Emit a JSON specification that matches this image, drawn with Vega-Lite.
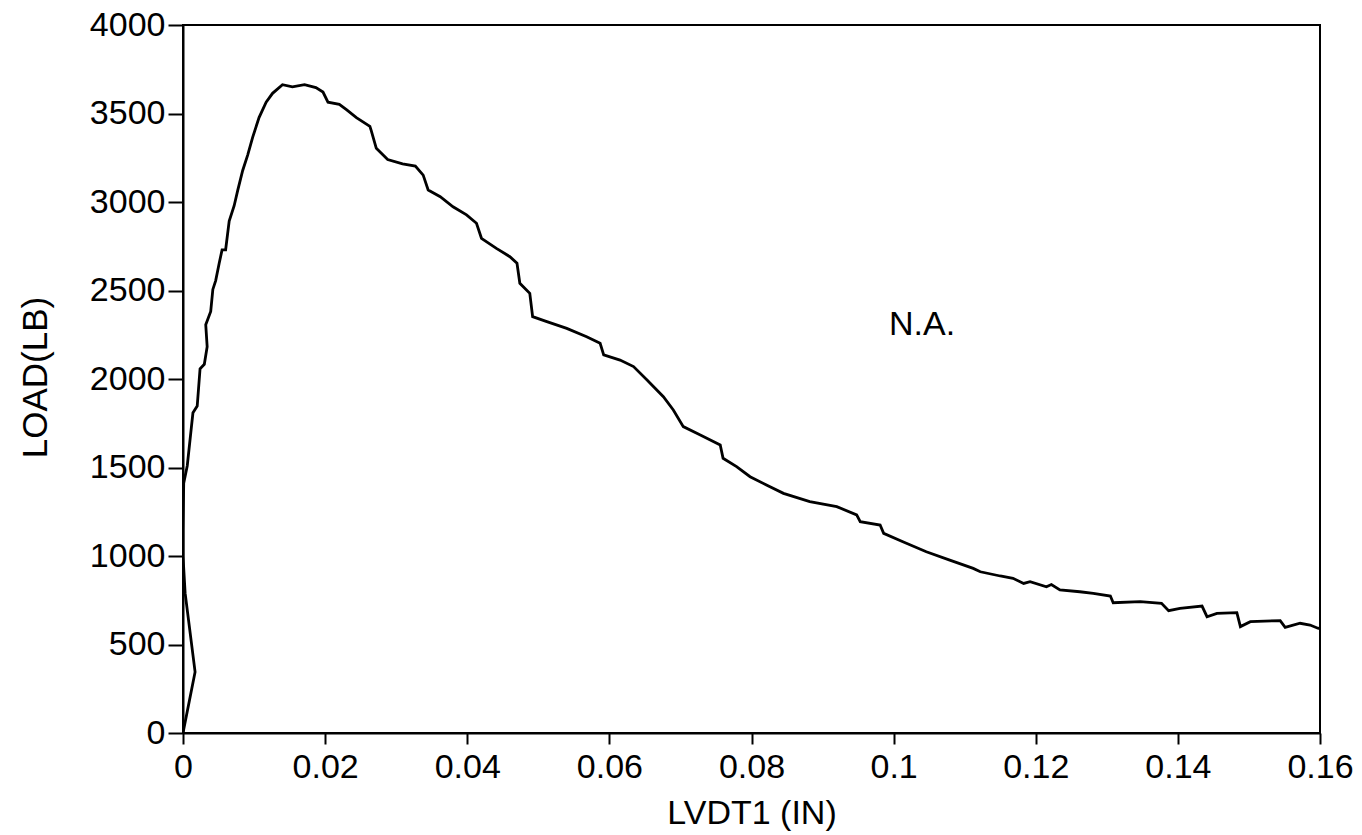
{
  "$schema": "https://vega.github.io/schema/vega-lite/v6.json",
  "autosize": {"type": "none"},
  "width": 1137,
  "height": 708,
  "padding": {"left": 183, "top": 25, "right": 42, "bottom": 102},
  "background": "white",
  "config": {
    "font": "Liberation Sans",
    "view": {"stroke": "black", "strokeWidth": 2},
    "axis": {
      "grid": false,
      "domainColor": "black",
      "domainWidth": 2,
      "tickColor": "black",
      "tickWidth": 2,
      "labelColor": "black",
      "titleColor": "black",
      "labelFont": "Liberation Sans",
      "titleFont": "Liberation Sans",
      "titleFontWeight": "normal"
    }
  },
  "datasets": {
    "curve": [
      {"i": 0, "x": 0, "y": 0},
      {"i": 1, "x": 0.0017, "y": 345},
      {"i": 2, "x": 0.0003, "y": 790},
      {"i": 3, "x": 0, "y": 1000},
      {"i": 4, "x": 0, "y": 1150},
      {"i": 5, "x": 0.0001, "y": 1411},
      {"i": 6, "x": 0.0006, "y": 1510},
      {"i": 7, "x": 0.0012, "y": 1735},
      {"i": 8, "x": 0.0014, "y": 1809},
      {"i": 9, "x": 0.002, "y": 1847},
      {"i": 10, "x": 0.0024, "y": 2058},
      {"i": 11, "x": 0.003, "y": 2083},
      {"i": 12, "x": 0.0034, "y": 2183},
      {"i": 13, "x": 0.0032, "y": 2307},
      {"i": 14, "x": 0.0039, "y": 2382},
      {"i": 15, "x": 0.0042, "y": 2506},
      {"i": 16, "x": 0.0046, "y": 2556},
      {"i": 17, "x": 0.0051, "y": 2655},
      {"i": 18, "x": 0.0055, "y": 2730},
      {"i": 19, "x": 0.006, "y": 2730},
      {"i": 20, "x": 0.0065, "y": 2892},
      {"i": 21, "x": 0.0072, "y": 2979},
      {"i": 22, "x": 0.0077, "y": 3066},
      {"i": 23, "x": 0.0084, "y": 3178},
      {"i": 24, "x": 0.0091, "y": 3265},
      {"i": 25, "x": 0.0098, "y": 3365},
      {"i": 26, "x": 0.0107, "y": 3477},
      {"i": 27, "x": 0.0117, "y": 3564},
      {"i": 28, "x": 0.0126, "y": 3614},
      {"i": 29, "x": 0.014, "y": 3663},
      {"i": 30, "x": 0.0154, "y": 3651},
      {"i": 31, "x": 0.0171, "y": 3663},
      {"i": 32, "x": 0.0187, "y": 3646},
      {"i": 33, "x": 0.0197, "y": 3621},
      {"i": 34, "x": 0.0204, "y": 3564},
      {"i": 35, "x": 0.022, "y": 3552},
      {"i": 36, "x": 0.023, "y": 3522},
      {"i": 37, "x": 0.0244, "y": 3477},
      {"i": 38, "x": 0.0263, "y": 3427},
      {"i": 39, "x": 0.0265, "y": 3402},
      {"i": 40, "x": 0.0272, "y": 3303},
      {"i": 41, "x": 0.0288, "y": 3240},
      {"i": 42, "x": 0.0309, "y": 3216},
      {"i": 43, "x": 0.0327, "y": 3203},
      {"i": 44, "x": 0.0338, "y": 3152},
      {"i": 45, "x": 0.0345, "y": 3068},
      {"i": 46, "x": 0.0362, "y": 3030},
      {"i": 47, "x": 0.038, "y": 2973},
      {"i": 48, "x": 0.0399, "y": 2927},
      {"i": 49, "x": 0.0413, "y": 2880},
      {"i": 50, "x": 0.042, "y": 2795},
      {"i": 51, "x": 0.0441, "y": 2738},
      {"i": 52, "x": 0.046, "y": 2691},
      {"i": 53, "x": 0.047, "y": 2654},
      {"i": 54, "x": 0.0474, "y": 2541},
      {"i": 55, "x": 0.0488, "y": 2484},
      {"i": 56, "x": 0.0492, "y": 2352},
      {"i": 57, "x": 0.0512, "y": 2324},
      {"i": 58, "x": 0.054, "y": 2286},
      {"i": 59, "x": 0.0568, "y": 2239},
      {"i": 60, "x": 0.0587, "y": 2202},
      {"i": 61, "x": 0.0592, "y": 2136},
      {"i": 62, "x": 0.0615, "y": 2107},
      {"i": 63, "x": 0.0634, "y": 2070},
      {"i": 64, "x": 0.0653, "y": 1994},
      {"i": 65, "x": 0.0676, "y": 1900},
      {"i": 66, "x": 0.069, "y": 1825},
      {"i": 67, "x": 0.0704, "y": 1731},
      {"i": 68, "x": 0.0728, "y": 1684},
      {"i": 69, "x": 0.0756, "y": 1627},
      {"i": 70, "x": 0.076, "y": 1552},
      {"i": 71, "x": 0.0779, "y": 1505},
      {"i": 72, "x": 0.0798, "y": 1448},
      {"i": 73, "x": 0.0821, "y": 1401},
      {"i": 74, "x": 0.0845, "y": 1354},
      {"i": 75, "x": 0.0882, "y": 1307},
      {"i": 76, "x": 0.092, "y": 1279},
      {"i": 77, "x": 0.0948, "y": 1232},
      {"i": 78, "x": 0.0953, "y": 1194},
      {"i": 79, "x": 0.0981, "y": 1175},
      {"i": 80, "x": 0.0986, "y": 1128},
      {"i": 81, "x": 0.1013, "y": 1081},
      {"i": 82, "x": 0.1046, "y": 1024},
      {"i": 83, "x": 0.1079, "y": 977},
      {"i": 84, "x": 0.1112, "y": 930},
      {"i": 85, "x": 0.1122, "y": 911},
      {"i": 86, "x": 0.115, "y": 887},
      {"i": 87, "x": 0.1168, "y": 874},
      {"i": 88, "x": 0.1183, "y": 845},
      {"i": 89, "x": 0.1192, "y": 855},
      {"i": 90, "x": 0.1215, "y": 826},
      {"i": 91, "x": 0.1222, "y": 839},
      {"i": 92, "x": 0.1234, "y": 808},
      {"i": 93, "x": 0.1262, "y": 798},
      {"i": 94, "x": 0.1281, "y": 789},
      {"i": 95, "x": 0.1305, "y": 774},
      {"i": 96, "x": 0.1309, "y": 736},
      {"i": 97, "x": 0.1347, "y": 742},
      {"i": 98, "x": 0.1377, "y": 733},
      {"i": 99, "x": 0.1387, "y": 691},
      {"i": 100, "x": 0.1403, "y": 704},
      {"i": 101, "x": 0.1434, "y": 717},
      {"i": 102, "x": 0.1441, "y": 657},
      {"i": 103, "x": 0.1455, "y": 676},
      {"i": 104, "x": 0.1483, "y": 680},
      {"i": 105, "x": 0.1488, "y": 601},
      {"i": 106, "x": 0.1502, "y": 629},
      {"i": 107, "x": 0.1544, "y": 635},
      {"i": 108, "x": 0.1551, "y": 597},
      {"i": 109, "x": 0.1572, "y": 620},
      {"i": 110, "x": 0.1586, "y": 610},
      {"i": 111, "x": 0.1597, "y": 592},
      {"i": 112, "x": 0.16, "y": 590}
    ],
    "note": [
      {"x": 0.104, "y": 2305, "label": "N.A."}
    ]
  },
  "layer": [
    {
      "data": {"name": "curve"},
      "mark": {"type": "line", "color": "black", "strokeWidth": 2.8, "strokeJoin": "miter", "clip": true},
      "encoding": {
        "x": {
          "field": "x", "type": "quantitative",
          "scale": {"domain": [0, 0.16], "nice": false, "zero": false},
          "axis": {
            "values": [0, 0.02, 0.04, 0.06, 0.08, 0.1, 0.12, 0.14, 0.16],
            "format": "~g",
            "title": "LVDT1 (IN)",
            "labelFontSize": 34,
            "tickSize": 11,
            "labelPadding": 6,
            "titleFontSize": 34,
            "titleBaseline": "alphabetic",
            "titleY": 90,
            "labelFlush": false,
            "labelOverlap": false
          }
        },
        "y": {
          "field": "y", "type": "quantitative",
          "scale": {"domain": [0, 4000], "nice": false},
          "axis": {
            "values": [0, 500, 1000, 1500, 2000, 2500, 3000, 3500, 4000],
            "format": "d",
            "title": "LOAD(LB)",
            "labelFontSize": 34,
            "tickSize": 15,
            "labelPadding": 3,
            "titleFontSize": 35,
            "titleAngle": -90,
            "titleAlign": "center",
            "titleBaseline": "middle",
            "titleX": -148,
            "titleY": 352,
            "labelFlush": false,
            "labelOverlap": false
          }
        },
        "order": {"field": "i", "type": "quantitative"}
      }
    },
    {
      "data": {"name": "note"},
      "mark": {"type": "text", "fontSize": 34, "color": "black", "align": "center", "baseline": "middle"},
      "encoding": {
        "x": {"field": "x", "type": "quantitative"},
        "y": {"field": "y", "type": "quantitative"},
        "text": {"field": "label"}
      }
    }
  ]
}
